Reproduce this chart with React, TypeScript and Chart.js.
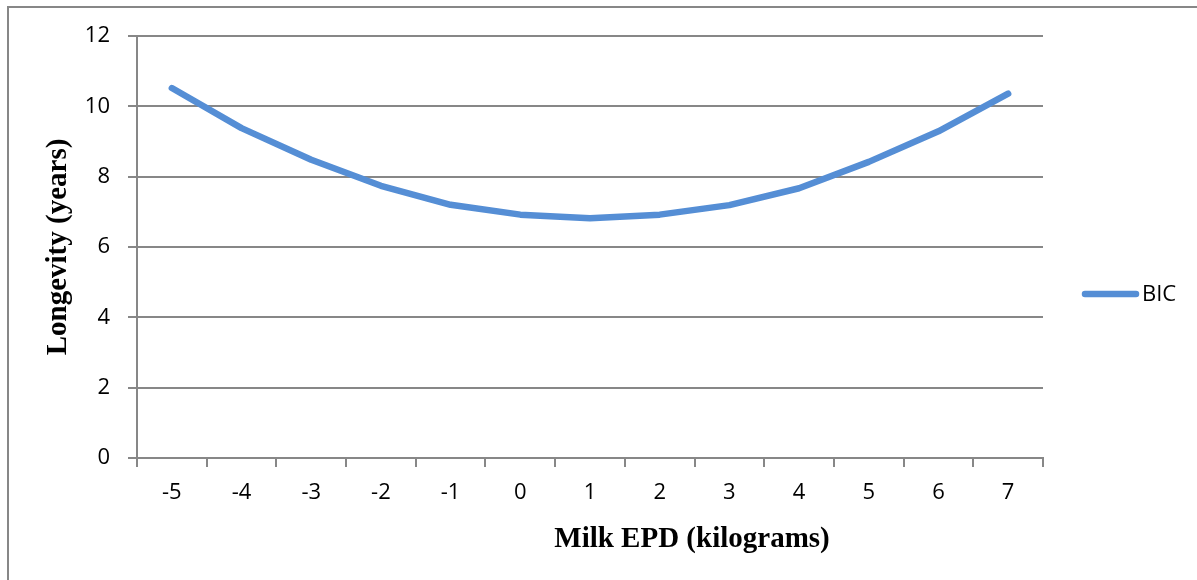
import React, { useEffect, useRef } from "react";
import { Chart, registerables } from "chart.js";

Chart.register(...registerables);

const categories = ["-5", "-4", "-3", "-2", "-1", "0", "1", "2", "3", "4", "5", "6", "7"];
const bicValues = [10.52, 9.38, 8.48, 7.74, 7.2, 6.92, 6.82, 6.92, 7.19, 7.67, 8.42, 9.29, 10.36];
const yMin = 0;
const yMax = 12;
const yStep = 2;
const seriesName = "BIC";
const xTitle = "Milk EPD (kilograms)";
const yTitle = "Longevity (years)";

const LINE_COLOR = "#558ED5";
const AXIS_COLOR = "#878787";
const TICK_FONT = "Open Sans";
const TITLE_FONT = "Liberation Serif";
const TICK_SIZE = 22;

export default function App() {
  const canvasRef = useRef<HTMLCanvasElement>(null);

  useEffect(() => {
    let chart: Chart | null = null;
    let cancelled = false;

    const extras = {
      id: "extras",
      afterDraw(c: any) {
        const { ctx, chartArea } = c;
        ctx.save();
        // legend
        const y = 294;
        ctx.strokeStyle = LINE_COLOR;
        ctx.lineWidth = 6.5;
        ctx.lineCap = "round";
        ctx.beginPath();
        ctx.moveTo(chartArea.right + 42, y);
        ctx.lineTo(chartArea.right + 93, y);
        ctx.stroke();
        ctx.fillStyle = "#000";
        ctx.font = `${TICK_SIZE}px "${TICK_FONT}"`;
        ctx.textBaseline = "middle";
        ctx.textAlign = "left";
        ctx.fillText(seriesName, chartArea.right + 99, y + 1);
        // x axis title
        ctx.font = `bold 29px "${TITLE_FONT}"`;
        ctx.textAlign = "center";
        ctx.textBaseline = "middle";
        ctx.fillText(xTitle, (chartArea.left + chartArea.right) / 2 + 102, chartArea.bottom + 82);
        ctx.restore();
      },
    };

    const build = () => {
      if (cancelled || !canvasRef.current) return;
      chart = new Chart(canvasRef.current, {
        type: "line",
        data: {
          labels: categories,
          datasets: [
            {
              label: seriesName,
              data: bicValues,
              borderColor: LINE_COLOR,
              backgroundColor: LINE_COLOR,
              borderWidth: 6.5,
              pointRadius: 0,
              pointHoverRadius: 0,
              tension: 0,
              fill: false,
              borderCapStyle: "round",
              borderJoinStyle: "round",
            },
          ],
        },
        options: {
          responsive: false,
          animation: false,
          layout: { padding: { left: 0, right: 154, top: 36, bottom: 0 } },
          plugins: {
            legend: { display: false },
            tooltip: { enabled: false },
          },
          scales: {
            x: {
              type: "category",
              offset: true,
              grid: {
                offset: true,
                drawOnChartArea: false,
                drawTicks: true,
                tickLength: 9,
                color: AXIS_COLOR,
                lineWidth: 2,
              },
              border: { color: AXIS_COLOR, width: 2 },
              ticks: {
                color: "#000",
                font: { family: TICK_FONT, size: TICK_SIZE },
                padding: 13,
                maxRotation: 0,
                autoSkip: false,
              },
              title: { display: false },
              afterFit: (s: any) => {
                s.height = 122;
              },
            },
            y: {
              min: yMin,
              max: yMax,
              ticks: {
                stepSize: yStep,
                color: "#000",
                font: { family: TICK_FONT, size: TICK_SIZE },
                padding: 18,
              },
              grid: {
                color: AXIS_COLOR,
                lineWidth: 2,
                tickLength: 9,
              },
              border: { color: AXIS_COLOR, width: 2 },
              title: {
                display: true,
                text: yTitle,
                color: "#000",
                font: { family: TITLE_FONT, size: 29, weight: "bold" },
                padding: { top: 41, bottom: 0 },
              },
              afterFit: (s: any) => {
                s.width = 137;
              },
            },
          },
        },
        plugins: [extras],
      } as any);
    };

    const fontsReady = (document as any).fonts
      ? Promise.all([
          (document as any).fonts.load(`${TICK_SIZE}px "${TICK_FONT}"`),
          (document as any).fonts.load(`bold 29px "${TITLE_FONT}"`),
        ]).catch(() => null)
      : Promise.resolve(null);
    fontsReady.then(build);

    return () => {
      cancelled = true;
      if (chart) chart.destroy();
    };
  }, []);

  return (
    <div
      style={{
        position: "fixed",
        left: 0,
        top: 0,
        width: 1197,
        height: 580,
        overflow: "hidden",
        background: "#fff",
      }}
    >
      <div
        style={{
          position: "absolute",
          left: 7,
          top: 6,
          width: 1400,
          height: 800,
          borderLeft: `2px solid ${AXIS_COLOR}`,
          borderTop: `2px solid ${AXIS_COLOR}`,
        }}
      />
      <canvas
        ref={canvasRef}
        width={1197}
        height={580}
        style={{ position: "absolute", left: 0, top: 0, display: "block" }}
      />
    </div>
  );
}
